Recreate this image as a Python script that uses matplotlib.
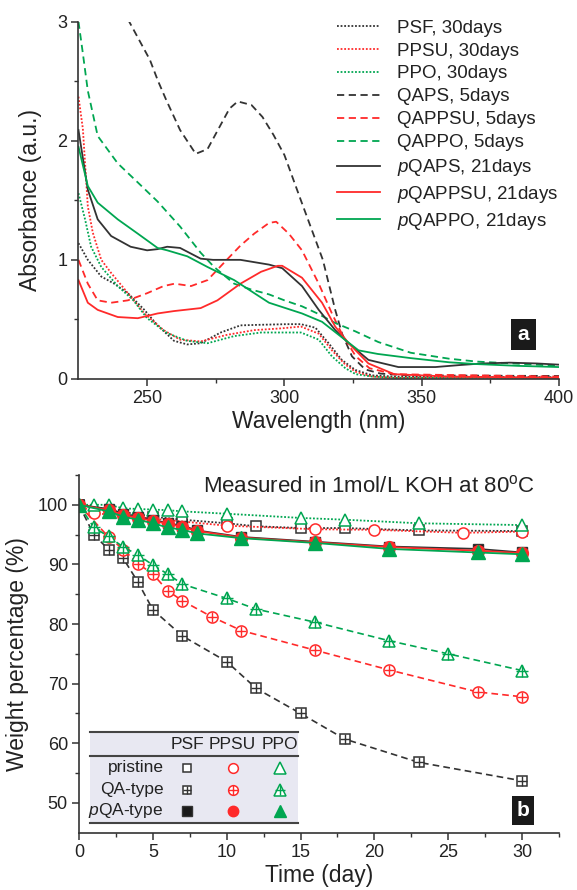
import matplotlib
matplotlib.use("Agg")
import matplotlib.pyplot as plt
from matplotlib.patches import Rectangle
from matplotlib.lines import Line2D

plt.rcParams["font.family"] = ["Liberation Sans", "DejaVu Sans"]
plt.rcParams["mathtext.fontset"] = "custom"
plt.rcParams["mathtext.rm"] = "Liberation Sans"
plt.rcParams["mathtext.it"] = "Liberation Sans:italic"

BLACK = "#333333"
RED = "#ff2a2a"
GREEN = "#00a651"

# ---------------- panel a: UV-vis spectra ----------------
psf_wl = [225, 228.4, 233.3, 238, 243, 249, 253.8, 259.8, 264.6, 269.5, 276.8, 284, 291.5, 301, 306, 311.3, 316.1, 320.9, 325.8, 332, 340, 400]
psf_abs = [1.14, 1.0, 0.86, 0.80, 0.72, 0.58, 0.45, 0.32, 0.29, 0.30, 0.39, 0.45, 0.455, 0.46, 0.46, 0.43, 0.30, 0.16, 0.076, 0.03, 0.02, 0.015]

ppsu_wl = [225, 226.6, 228.4, 230.2, 233.3, 236.9, 243, 249, 256, 262, 269.5, 279, 289, 299, 306, 312.5, 317.3, 322.2, 326, 332, 340, 400]
ppsu_abs = [2.37, 2.1, 1.45, 1.23, 1.0, 0.89, 0.72, 0.55, 0.41, 0.33, 0.315, 0.37, 0.41, 0.425, 0.44, 0.38, 0.24, 0.12, 0.06, 0.02, 0.01, 0.01]

ppo_wl = [225, 227.4, 229.6, 233.3, 239.3, 245, 250, 257.3, 264.6, 272, 281.7, 291.5, 299, 306, 312.5, 317.3, 322.2, 326, 332, 340, 400]
ppo_abs = [1.56, 1.34, 1.11, 0.94, 0.78, 0.66, 0.51, 0.385, 0.32, 0.30, 0.36, 0.39, 0.39, 0.39, 0.33, 0.19, 0.09, 0.04, 0.02, 0.01, 0.01]

qaps_wl = [243, 247, 251, 254, 257, 262, 267.7, 272, 276, 280, 283, 288, 292, 296, 300, 306, 310, 314, 318.5, 321, 324.6, 329.4, 335, 345, 400]
qaps_abs = [3.02, 2.85, 2.68, 2.5, 2.34, 2.09, 1.89, 1.93, 2.1, 2.27, 2.33, 2.3, 2.2, 2.05, 1.88, 1.5, 1.25, 1.0, 0.58, 0.38, 0.19, 0.08, 0.045, 0.03, 0.025]

qappsu_wl = [225, 228.4, 232, 236.9, 243, 250, 256, 260, 266, 272, 279, 284, 289, 294.4, 297, 301.6, 306.4, 312.5, 317.3, 320.9, 326, 331, 340, 400]
qappsu_abs = [1.0, 0.80, 0.66, 0.64, 0.66, 0.72, 0.78, 0.80, 0.78, 0.83, 1.0, 1.12, 1.22, 1.31, 1.32, 1.22, 1.08, 0.80, 0.55, 0.38, 0.19, 0.09, 0.04, 0.02]

qappo_wl = [225, 226.5, 228.4, 232, 239.3, 246.6, 253.8, 262, 269.5, 274.4, 281.7, 288, 294.4, 300, 306.4, 312, 318.5, 325.8, 334.2, 346, 360, 370, 400]
qappo_abs = [3.0, 2.75, 2.42, 2.04, 1.81, 1.65, 1.49, 1.28, 1.06, 0.94, 0.80, 0.75, 0.71, 0.66, 0.61, 0.55, 0.47, 0.40, 0.31, 0.22, 0.17, 0.146, 0.11]

pqaps_wl = [225, 228.4, 232, 236.9, 244, 250, 253.8, 257.3, 262, 269.5, 274, 284, 294.4, 299.2, 306.4, 312.5, 318.5, 323.4, 330.6, 341.5, 355, 364, 372, 382, 392, 400]
pqaps_abs = [2.09, 1.59, 1.34, 1.20, 1.11, 1.08, 1.09, 1.11, 1.10, 1.01, 1.0, 1.0, 0.96, 0.93, 0.78, 0.58, 0.41, 0.30, 0.16, 0.10, 0.10, 0.117, 0.13, 0.137, 0.13, 0.12]

pqappsu_wl = [225, 228.4, 232, 239.3, 246.6, 253.8, 259.8, 269.5, 275.6, 284, 291.5, 297.6, 299.2, 306.4, 313.7, 318.5, 323.4, 330.6, 340, 360, 400]
pqappsu_abs = [0.83, 0.64, 0.58, 0.52, 0.51, 0.55, 0.57, 0.595, 0.66, 0.80, 0.90, 0.95, 0.95, 0.85, 0.64, 0.44, 0.30, 0.13, 0.04, 0.02, 0.01]

pqappo_wl = [225, 228.4, 232, 239.3, 246.6, 253.8, 257.3, 264.6, 272, 281.7, 294.4, 306.4, 313.7, 320.9, 327, 334, 346, 360, 370, 385, 400]
pqappo_abs = [1.95, 1.62, 1.48, 1.34, 1.22, 1.10, 1.08, 1.03, 0.94, 0.83, 0.64, 0.55, 0.48, 0.35, 0.24, 0.21, 0.175, 0.14, 0.125, 0.11, 0.10]

spectra_labels = ["PSF, 30days", "PPSU, 30days", "PPO, 30days",
                  "QAPS, 5days", "QAPPSU, 5days", "QAPPO, 5days",
                  "$p$QAPS, 21days", "$p$QAPPSU, 21days", "$p$QAPPO, 21days"]

# ---------------- panel b: weight loss ----------------
pri_psf_day = [0, 5, 7, 10, 12, 15, 18, 23, 30]
pri_psf_wt = [100, 98.0, 97.5, 96.9, 96.4, 96.1, 96.1, 95.7, 95.6]
pri_ppsu_day = [0, 1, 10, 16, 20, 26, 30]
pri_ppsu_wt = [100, 98.6, 96.5, 95.9, 95.8, 95.3, 95.5]
pri_ppo_day = [0, 1, 2, 3, 4, 5, 6, 7, 10, 15, 18, 23, 30]
pri_ppo_wt = [100, 100, 100, 99.4, 99.3, 99.2, 99.1, 98.9, 98.5, 97.8, 97.5, 96.9, 96.6]

qa_psf_day = [0, 1, 2, 3, 4, 5, 7, 10, 12, 15, 18, 23, 30]
qa_psf_wt = [100, 95.0, 92.5, 91.0, 87.0, 82.4, 78.0, 73.7, 69.2, 65.0, 60.7, 56.8, 53.7]
qa_ppsu_day = [0, 2, 3, 4, 5, 6, 7, 9, 11, 16, 21, 27, 30]
qa_ppsu_wt = [100, 94.6, 92.5, 90.1, 88.4, 85.6, 83.9, 81.2, 78.9, 75.6, 72.3, 68.6, 67.8]
qa_ppo_day = [0, 1, 2, 3, 4, 5, 6, 7, 10, 12, 16, 21, 25, 30]
qa_ppo_wt = [100, 96.2, 94.7, 92.9, 91.6, 89.9, 88.4, 86.7, 84.3, 82.5, 80.3, 77.2, 75.0, 72.2]

pqa_day = [0, 2, 3, 4, 5, 6, 7, 8, 11, 16, 21, 27, 30]
pqa_psf_wt = [100, 99.3, 98.5, 98.0, 97.5, 96.9, 96.5, 95.7, 94.6, 93.8, 93.0, 92.6, 92.0]
pqa_ppsu_wt = [100, 99.1, 98.3, 97.8, 97.3, 96.8, 96.3, 95.6, 94.5, 93.7, 92.9, 92.3, 91.9]
pqa_ppo_wt = [100, 98.9, 98.0, 97.5, 96.9, 96.2, 95.8, 95.2, 94.4, 93.6, 92.6, 92.0, 91.7]

table_cols = ["PSF", "PPSU", "PPO"]
table_rows = ["pristine", "QA-type", "$p$QA-type"]

DOT = (0, (1, 1))
DASH = (0, (4, 2.5))

fig = plt.figure(figsize=(5.77, 8.90), dpi=100)
ax1 = fig.add_axes([0.136, 0.5742, 0.8328, 0.4015])
ax2 = fig.add_axes([0.1369, 0.0644, 0.8319, 0.4019])


def style_axes(ax):
    for s in ["top", "right"]:
        ax.spines[s].set_visible(False)
    for s in ["left", "bottom"]:
        ax.spines[s].set_color(BLACK)
        ax.spines[s].set_linewidth(1.2)
    ax.tick_params(which="major", direction="out", length=5, width=1.1,
                   color=BLACK, labelsize=13, labelcolor="#222222", pad=3)
    ax.tick_params(which="minor", direction="out", length=3, width=1.0, color=BLACK)


# panel a
spectra = [
    (psf_wl, psf_abs, BLACK, DOT), (ppsu_wl, ppsu_abs, RED, DOT), (ppo_wl, ppo_abs, GREEN, DOT),
    (qaps_wl, qaps_abs, BLACK, DASH), (qappsu_wl, qappsu_abs, RED, DASH), (qappo_wl, qappo_abs, GREEN, DASH),
    (pqaps_wl, pqaps_abs, BLACK, "-"), (pqappsu_wl, pqappsu_abs, RED, "-"), (pqappo_wl, pqappo_abs, GREEN, "-"),
]
handles = []
for (x, y, c, ls), lab in zip(spectra, spectra_labels):
    h, = ax1.plot(x, y, color=c, ls=ls, lw=1.3, label=lab, clip_on=True)
    handles.append(h)

ax1.set_xlim(225, 400)
ax1.set_ylim(0, 3)
ax1.set_xticks([250, 300, 350, 400])
ax1.set_xticks([275, 325, 375], minor=True)
ax1.set_yticks([0, 1, 2, 3])
ax1.set_yticks([0.5, 1.5, 2.5], minor=True)
style_axes(ax1)
ax1.set_xlabel("Wavelength (nm)", fontsize=16.5, color="#222222", labelpad=2)
ax1.set_ylabel("Absorbance (a.u.)", fontsize=16.5, color="#222222", labelpad=11)

ax1.legend(handles=handles, loc="upper left", bbox_to_anchor=(0.538, 1.006),
           frameon=False, fontsize=13.5, handlelength=2.3, handletextpad=0.9,
           labelspacing=0.31, borderpad=0, borderaxespad=0, labelcolor="#222222")

ax1.text(0.926, 0.1245, "a", transform=ax1.transAxes, ha="center", va="center",
         fontsize=15, fontweight="bold", color="white",
         bbox=dict(boxstyle="square,pad=0.3", fc="#1a1a1a", ec="none"))

# panel b
ms = 7.5
ax2.plot(pri_psf_day, pri_psf_wt, color=BLACK, ls=DOT, lw=1.3, marker="s", ms=ms,
         mfc="white", mec=BLACK, mew=1.1)
ax2.plot(pri_ppsu_day, pri_ppsu_wt, color=RED, ls=DOT, lw=1.3, marker="o", ms=ms + 0.5,
         mfc="white", mec=RED, mew=1.1)
ax2.plot(pri_ppo_day, pri_ppo_wt, color=GREEN, ls=DOT, lw=1.3, marker="^", ms=ms + 1,
         mfc="white", mec=GREEN, mew=1.1)

for d, w, c, m, s in [(qa_psf_day, qa_psf_wt, BLACK, "s", ms),
                      (qa_ppsu_day, qa_ppsu_wt, RED, "o", ms + 0.5),
                      (qa_ppo_day, qa_ppo_wt, GREEN, "^", ms + 1)]:
    ax2.plot(d, w, color=c, ls=DASH, lw=1.2, marker=m, ms=s, mfc="white", mec=c, mew=1.1)
    ax2.plot(d, w, ls="none", marker="+", ms=s - 0.5, mec=c, mew=1.0)

ax2.plot(pqa_day, pqa_psf_wt, color=BLACK, ls="-", lw=1.3, marker="s", ms=ms,
         mfc="#1a1a1a", mec=BLACK)
ax2.plot(pqa_day, pqa_ppsu_wt, color=RED, ls="-", lw=1.3, marker="o", ms=ms + 1,
         mfc=RED, mec=RED)
ax2.plot(pqa_day, pqa_ppo_wt, color=GREEN, ls="-", lw=1.3, marker="^", ms=ms + 2,
         mfc=GREEN, mec=GREEN)

ax2.set_xlim(0, 32.5)
ax2.set_ylim(45, 105)
ax2.set_xticks([0, 5, 10, 15, 20, 25, 30])
ax2.set_xticks([2.5, 7.5, 12.5, 17.5, 22.5, 27.5, 32.5], minor=True)
ax2.set_yticks([50, 60, 70, 80, 90, 100])
ax2.set_yticks([55, 65, 75, 85, 95, 105], minor=True)
style_axes(ax2)
ax2.set_xlabel("Time (day)", fontsize=16.5, color="#222222", labelpad=2)
ax2.set_ylabel("Weight percentage (%)", fontsize=16.5, color="#222222", labelpad=6)

ax2.text(0.604, 0.967, "Measured in 1mol/L KOH at 80$^\\mathregular{o}$C",
         transform=ax2.transAxes, ha="center", va="center", fontsize=16, color="#222222")

ax2.text(0.926, 0.062, "b", transform=ax2.transAxes, ha="center", va="center",
         fontsize=15, fontweight="bold", color="white",
         bbox=dict(boxstyle="square,pad=0.22", fc="#1a1a1a", ec="none"))

# marker table
tx0, tx1 = 0.023, 0.457
ax2.add_patch(Rectangle((tx0, 0.027), tx1 - tx0, 0.282 - 0.027, transform=ax2.transAxes,
                        fc="#e8e8f2", ec="none", zorder=5))
for yy in [0.282, 0.214, 0.027]:
    ax2.add_line(Line2D([tx0, tx1], [yy, yy], transform=ax2.transAxes, color="#444444",
                        lw=1.5, zorder=6))
col_x = [0.225, 0.320, 0.418]
row_y = [0.181, 0.120, 0.0615]
for cx, name in zip(col_x, table_cols):
    ax2.text(cx, 0.247, name, transform=ax2.transAxes, ha="center", va="center",
             fontsize=12.5, color="#222222", zorder=7)
for ry, name in zip(row_y, table_rows):
    ax2.text(0.176, ry, name, transform=ax2.transAxes, ha="right", va="center",
             fontsize=12.5, color="#222222", zorder=7)
cols = [BLACK, RED, GREEN]
marks = ["s", "o", "^"]
sizes = [6, 7, 8]
for cx, c, m, s in zip(col_x, cols, marks, sizes):
    ax2.plot([cx], [row_y[0]], transform=ax2.transAxes, marker=m, ms=s, mfc="white",
             mec=c, mew=1.1, ls="none", zorder=8, clip_on=False)
    ax2.plot([cx], [row_y[1]], transform=ax2.transAxes, marker=m, ms=s, mfc="white",
             mec=c, mew=1.1, ls="none", zorder=8, clip_on=False)
    ax2.plot([cx], [row_y[1]], transform=ax2.transAxes, marker="+", ms=s - 0.5,
             mec=c, mew=1.0, ls="none", zorder=9, clip_on=False)
    ax2.plot([cx], [row_y[2]], transform=ax2.transAxes, marker=m, ms=s + 0.5,
             mfc=c if c != BLACK else "#1a1a1a", mec=c, ls="none", zorder=8, clip_on=False)

fig.savefig("out.png", dpi=100)
